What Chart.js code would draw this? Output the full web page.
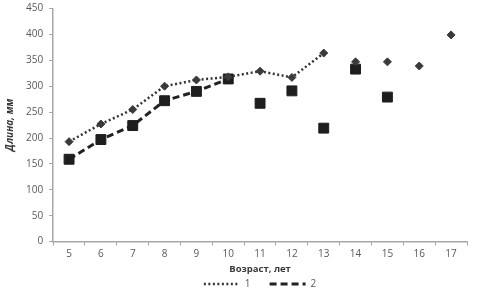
<!DOCTYPE html>
<html>
<head>
<meta charset="utf-8">
<script src="https://cdn.jsdelivr.net/npm/chart.js@4"></script>
<style>
  html, body { margin: 0; padding: 0; background: #fff; }
  #wrap { width: 479px; height: 289px; }
</style>
</head>
<body>
<div id="wrap"><canvas id="chart"></canvas></div>
<script>
// Ages (x categories)
const ages = ['5', '6', '7', '8', '9', '10', '11', '12', '13', '14', '15', '16', '17'];

// Series 1 – dotted line, diamonds
const series1 = [193, 227, 255, 300, 312, 318, 329, 317, 364, 347, 347, 339, 399];
// Series 2 – dashed line, squares
const series2 = [159, 197, 224, 272, 290, 314, 267, 291, 219, 333, 279, null, null];

// the line is only drawn up to this index, after it the points stand alone
const series1LineEnd = 8;
const series2LineEnd = 5;

const yTicks = [0, 50, 100, 150, 200, 250, 300, 350, 400, 450];

const tickColor = '#595959';
const axisColor = '#a6a6a6';
const fontFamily = "'Open Sans', 'Liberation Sans', sans-serif";

function hideAfter(lastIdx, color) {
    return ctx => ctx.p0DataIndex >= lastIdx ? 'rgba(0,0,0,0)' : color;
}

const ctx = document.getElementById('chart').getContext('2d');
new Chart(ctx, {
    type: 'line',
    data: {
        labels: ages,
        datasets: [
            {
                label: '1',
                data: series1,
                borderColor: '#333333',
                borderWidth: 2.5,
                borderDash: [2, 2.5],
                pointStyle: 'rectRot',
                pointRadius: 4,
                pointBackgroundColor: '#3a3a3a',
                pointBorderColor: '#3a3a3a',
                pointBorderWidth: 1,
                segment: { borderColor: hideAfter(series1LineEnd, '#333333') }
            },
            {
                label: '2',
                data: series2,
                borderColor: '#222222',
                borderWidth: 3,
                borderDash: [7, 4],
                pointStyle: 'rect',
                pointRadius: 7,
                pointBackgroundColor: '#1e1e1e',
                pointBorderColor: '#1e1e1e',
                pointBorderWidth: 1,
                segment: { borderColor: hideAfter(series2LineEnd, '#222222') }
            }
        ]
    },
    options: {
        responsive: true,
        maintainAspectRatio: false,
        animation: false,
        layout: { padding: { left: 4, right: 12, top: 8, bottom: -10 } },
        scales: {
            y: {
                min: 0,
                max: 450,
                afterBuildTicks: axis => { axis.ticks = yTicks.map(v => ({ value: v })); },
                grid: { drawOnChartArea: false, drawTicks: true, tickLength: 4, color: axisColor },
                border: { color: axisColor, width: 1.5 },
                // small lineHeight so the top label does not push the plot down
                ticks: { color: tickColor, font: { family: fontFamily, size: 10, lineHeight: 0.5 }, padding: 6 },
                title: {
                    display: true,
                    text: 'Длина, мм',
                    color: '#3a3a3a',
                    font: { family: fontFamily, size: 10, weight: 'bold', style: 'italic' },
                    padding: { top: 0, bottom: 4 }
                }
            },
            x: {
                offset: true,
                grid: { drawOnChartArea: false, drawTicks: true, tickLength: 4, color: axisColor, offset: true },
                border: { color: axisColor, width: 1.5 },
                ticks: { color: tickColor, font: { family: fontFamily, size: 10 }, padding: 3, maxRotation: 0 },
                title: {
                    display: true,
                    text: 'Возраст, лет',
                    color: '#3a3a3a',
                    font: { family: fontFamily, size: 9.5, weight: 'bold' },
                    padding: { top: 0, bottom: 0 }
                }
            }
        },
        plugins: {
            legend: {
                position: 'bottom',
                fullSize: false,
                labels: {
                    usePointStyle: true,
                    pointStyleWidth: 36,
                    boxWidth: 36,
                    boxHeight: 6,
                    padding: 4,
                    color: tickColor,
                    font: { family: fontFamily, size: 10 },
                    generateLabels: chart => chart.data.datasets.map((ds, i) => ({
                        // en spaces after the first label widen the gap between the two items
                        text: i === 0 ? ds.label + '\u2002\u2002\u2002' : ds.label,
                        datasetIndex: i,
                        pointStyle: 'line',
                        strokeStyle: ds.borderColor,
                        fillStyle: ds.borderColor,
                        lineWidth: ds.borderWidth,
                        lineDash: ds.borderDash,
                        fontColor: tickColor
                    }))
                }
            },
            tooltip: { enabled: false }
        }
    }
});
</script>
</body>
</html>
